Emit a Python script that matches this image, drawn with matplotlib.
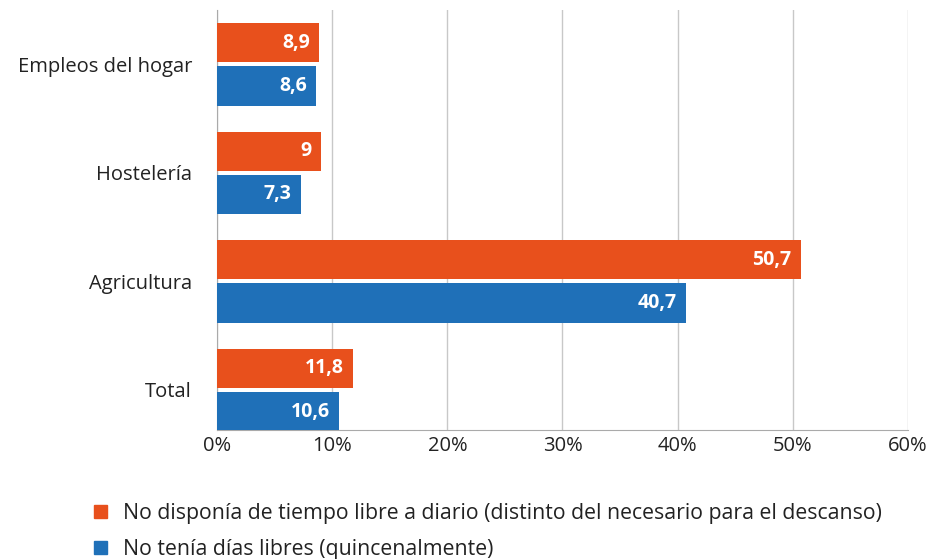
import matplotlib
matplotlib.use('Agg')
import matplotlib.pyplot as plt
from matplotlib.patches import Patch
from matplotlib.ticker import FuncFormatter

categories = ['Total', 'Agricultura', 'Hostelería', 'Empleos del hogar']
no_tiempo_libre = [11.8, 50.7, 9.0, 8.9]
no_dias_libres = [10.6, 40.7, 7.3, 8.6]
labels_orange = ['11,8', '50,7', '9', '8,9']
labels_blue = ['10,6', '40,7', '7,3', '8,6']
series_names = ['No disponía de tiempo libre a diario (distinto del necesario para el descanso)',
                'No tenía días libres (quincenalmente)']

ORANGE = '#E8501C'
BLUE = '#1F70B8'

plt.rcParams['font.family'] = ['Open Sans', 'DejaVu Sans']

fig = plt.figure(figsize=(9.37, 5.59), dpi=100)
ax = fig.add_axes([217/937, 1-430/559, (908-217)/937, 420/559])

y = list(range(len(categories)))
h = 0.36
off = 0.2
b1 = ax.barh([v + off for v in y], no_tiempo_libre, height=h, color=ORANGE, zorder=3)
b2 = ax.barh([v - off for v in y], no_dias_libres, height=h, color=BLUE, zorder=3)

for bars, labs in ((b1, labels_orange), (b2, labels_blue)):
    for bar, lab in zip(bars, labs):
        ax.text(bar.get_width() - 0.8, bar.get_y() + bar.get_height()/2, lab,
                ha='right', va='center', color='white', fontsize=14, fontweight='bold', zorder=4)

ax.set_xlim(0, 60)
ax.set_ylim(-0.37, 3.5)
ax.set_xticks(range(0, 61, 10))
ax.xaxis.set_major_formatter(FuncFormatter(lambda v, p: f'{int(v)}%'))
ax.set_yticks(y)
ax.set_yticklabels(categories)
ax.tick_params(axis='both', length=0, labelsize=14.5, colors='#222222')
ax.tick_params(axis='y', pad=18)
ax.tick_params(axis='x', pad=4)
ax.grid(axis='x', color='#c8c8c8', linewidth=1, zorder=0)
for s in ('top', 'right'):
    ax.spines[s].set_visible(False)
ax.spines['left'].set_color('#aaaaaa')
ax.spines['bottom'].set_color('#aaaaaa')

handles = [Patch(color=ORANGE), Patch(color=BLUE)]
fig.legend(handles, series_names, loc='upper left', bbox_to_anchor=(75/937, 1-484/559),
           frameon=False, fontsize=15.3, handlelength=0.6, handleheight=0.6,
           labelspacing=0.7, handletextpad=0.75, labelcolor='#222222')

fig.savefig('out.png', dpi=100)
